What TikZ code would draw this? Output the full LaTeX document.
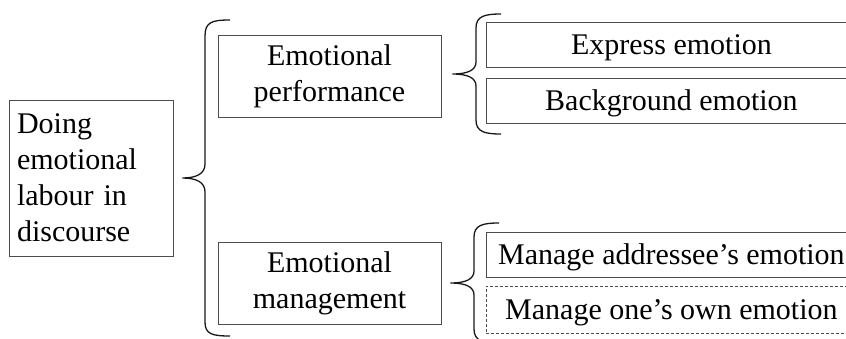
\documentclass[tikz,border=0pt]{standalone}
\usepackage{fontspec}
\setmainfont{Liberation Serif}
\usetikzlibrary{calc}
\newcommand\leaftext[1]{\makebox[370pt][c]{#1}\hspace*{40pt}}
\begin{document}
\begin{tikzpicture}[x=1pt,y=-1pt,
  box/.style={draw=black!70, line width=0.9pt, inner sep=0pt, align=center,
    font=\fontsize{30}{36}\selectfont},
  leafbox/.style={box, anchor=west, minimum height=45pt, text height=24pt, text depth=4pt},
  brace/.style={draw=black!90, line width=1.3pt}]
\useasboundingbox (0,0) rectangle (846,338);
\clip (0,0) rectangle (846,338);
\fill[white] (0,0) rectangle (846,338);
% nodes
\node[box, minimum width=164pt, minimum height=156pt, text width=148pt, inner xsep=8pt, align=left] (root) at (91,178) {Doing\\emotional\\labour in\\discourse};
\node[box, minimum width=223pt, minimum height=82pt] (perf) at (329.5,76) {Emotional\\performance};
\node[box, minimum width=223pt, minimum height=82pt] (mgmt) at (329.5,283) {Emotional\\management};
\node[leafbox] (express) at (486,44.5) {\leaftext{Express emotion}};
\node[leafbox] (backgr) at (486,100.5) {\leaftext{Background emotion}};
\node[leafbox] (addr) at (486,254.5) {\leaftext{Manage addressee’s emotion}};
\node[leafbox, minimum height=47pt, dash pattern=on 3pt off 2pt] (own) at (486,309.5) {\leaftext{Manage one’s own emotion}};
% brace tips
\coordinate (t1) at ($(root.east)+(9,0)$);
\coordinate (t2) at ($(perf.east)+(11,-2)$);
\coordinate (t3) at ($(mgmt.east)+(9,0)$);
% big brace
\draw[brace] (230,20) .. controls (212,20) and (205,22) .. (205,36) -- (205,164)
  .. controls (205,174) and (196,178) .. (t1)
  .. controls (196,178) and (205,182) .. (205,192) -- (205,322)
  .. controls (205,334) and (212,336) .. (230,336);
% performance brace
\draw[brace] (501,14) .. controls (485,14) and (476,16) .. (476,28) -- (476,62)
  .. controls (476,70) and (468,74) .. (t2)
  .. controls (468,74) and (476,78) .. (476,86) -- (476,120)
  .. controls (476,132) and (485,134) .. (501,134);
% management brace
\draw[brace] (499,223) .. controls (483,223) and (474,225) .. (474,237) -- (474,271)
  .. controls (474,279) and (466,283) .. (t3)
  .. controls (466,283) and (474,287) .. (474,295) -- (474,329)
  .. controls (474,341) and (483,343) .. (499,343);
\end{tikzpicture}
\end{document}
